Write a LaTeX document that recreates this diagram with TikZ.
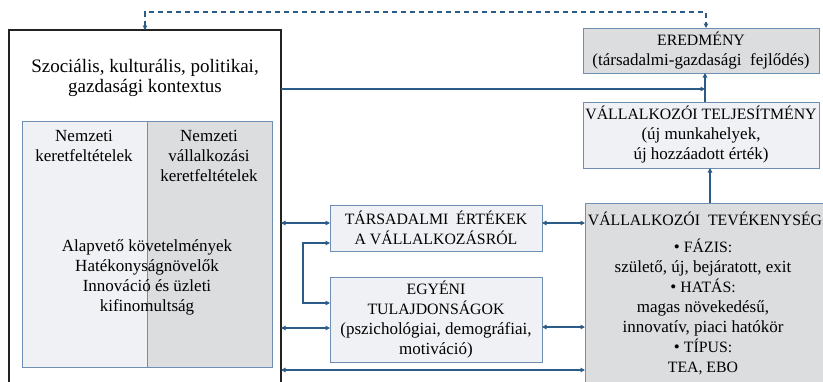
\documentclass[tikz,border=0pt]{standalone}
\usepackage{fontspec}
\setmainfont{Liberation Serif}
\usetikzlibrary{arrows.meta}
\definecolor{conn}{HTML}{2B5B87}
\definecolor{bord}{HTML}{6E8FB3}
\definecolor{lightfill}{HTML}{F0F1F4}
\definecolor{grayfill}{HTML}{DCDDDF}
\definecolor{mainline}{HTML}{222222}
\newcommand{\capsfont}{\fontsize{15.8}{20}\selectfont}
\tikzset{
  mainbox/.style={draw=mainline, line width=2pt, fill=white, inner sep=0pt, outer sep=0pt},
  lightbox/.style={draw=bord, line width=0.9pt, fill=lightfill, inner sep=0pt, outer sep=0pt, align=center, font=\fontsize{17}{20}\selectfont},
  graybox/.style={draw=bord, line width=0.9pt, fill=grayfill, inner sep=0pt, outer sep=0pt, align=center, font=\fontsize{17}{20}\selectfont},
  txt/.style={align=center, inner sep=0pt, font=\fontsize{17}{20}\selectfont},
  headtxt/.style={align=center, inner sep=0pt, font=\fontsize{19}{20}\selectfont},
  conn1/.style={draw=conn, line width=1.1pt, -{Triangle[length=4.5pt,width=4.5pt]}},
  conn2/.style={draw=conn, line width=1.1pt, {Triangle[length=4.5pt,width=4.5pt]}-{Triangle[length=4.5pt,width=4.5pt]}},
  dashconn/.style={draw=conn, line width=1.1pt, dash pattern=on 5pt off 4pt, {Triangle[length=4.5pt,width=4.5pt]}-{Triangle[length=4.5pt,width=4.5pt]}},
}
\begin{document}
\begin{tikzpicture}[x=1pt,y=-1pt]
\useasboundingbox (0,0) rectangle (823,381);
\clip (0,0) rectangle (823,381);
% main context box
\node[mainbox, minimum width=272pt, minimum height=380pt, anchor=north west] (main) at (9,30) {};
\node[headtxt] (head) at (145,78) {Szociális, kulturális, politikai,\\gazdasági kontextus};
\node[draw=bord, line width=0.9pt, fill=lightfill, minimum width=125pt, minimum height=246pt, anchor=north west, inner sep=0pt] (pleft) at (22,121) {};
\node[draw=bord, line width=0.9pt, fill=grayfill, minimum width=125pt, minimum height=246pt, anchor=north west, inner sep=0pt] (pright) at (147,121) {};
\node[txt] (tleft) at (84,146) {Nemzeti\\keretfeltételek};
\node[txt] (tright) at (209,156) {Nemzeti\\vállalkozási\\keretfeltételek};
\node[txt] (tlow) at (147,277) {Alapvető követelmények\\Hatékonyságnövelők\\Innováció és üzleti\\kifinomultság};
% right column
\node[graybox, minimum width=236pt, minimum height=45pt, anchor=north west] (ered) at (583,28) {{\capsfont EREDMÉNY}\\(társadalmi-gazdasági\ \ fejlődés)};
\node[lightbox, minimum width=236pt, minimum height=66pt, anchor=north west] (telj) at (583,102) {{\capsfont VÁLLALKOZÓI TELJESÍTMÉNY}\\(új munkahelyek,\\új hozzáadott érték)};
\node[graybox, minimum width=250pt, minimum height=200pt, anchor=north west] (tev) at (585,203) {};
\node[txt, font=\capsfont] (tevhead) at (705,219) {VÁLLALKOZÓI\ \ TEVÉKENYSÉG};
\node[txt] (tevbody) at (703,307) {• {\capsfont FÁZIS:}\\születő, új, bejáratott, exit\\• {\capsfont HATÁS:}\\magas növekedésű,\\innovatív, piaci hatókör\\• {\capsfont TÍPUS:}\\{\capsfont TEA, EBO}};
% middle
\node[lightbox, minimum width=212pt, minimum height=46pt, anchor=north west, font=\capsfont] (tars) at (330,205) {TÁRSADALMI\ \ ÉRTÉKEK\\A VÁLLALKOZÁSRÓL};
\node[lightbox, minimum width=212pt, minimum height=85pt, anchor=north west] (egy) at (330,277) {{\capsfont EGYÉNI}\\{\capsfont TULAJDONSÁGOK}\\(pszichológiai,\ demográfiai,\\motiváció)};
% connectors
\coordinate (join) at (705,89);
\draw[conn1] (main.east |- join) -- (join);
\draw[conn1] (telj.north -| join) -- (ered.south -| join);
\draw[conn1] ([xshift=9pt]tev.north -| telj.south) -- ([xshift=9pt]telj.south);
\draw[dashconn] (main.north) -- (145,12) -| ([xshift=5pt]ered.north);
\draw[conn2] (main.east |- 0,223) -- (tars.west |- 0,223);
\draw[conn2] (tars.west |- 0,243) -- (303,243) -- (303,303) -- (egy.west |- 0,303);
\draw[conn2] (main.east |- 0,328) -- (egy.west |- 0,328);
\draw[conn2] (tars.east |- 0,223) -- (tev.west |- 0,223);
\draw[conn2] (egy.east |- 0,327) -- (tev.west |- 0,327);
\draw[conn2] (main.east |- 0,370) -- (tev.west |- 0,370);
\end{tikzpicture}
\end{document}
